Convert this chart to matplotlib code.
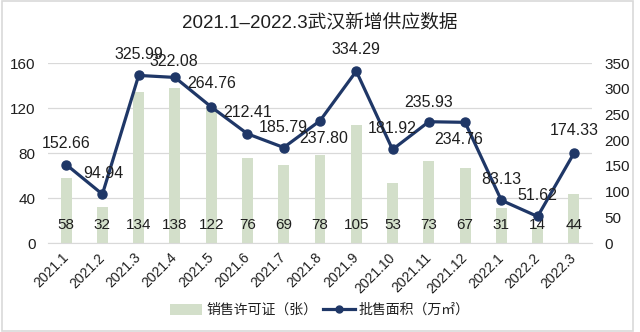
import matplotlib
matplotlib.use("Agg")
import matplotlib.pyplot as plt
from matplotlib.patches import Rectangle
from matplotlib.lines import Line2D
from matplotlib.patches import Patch

plt.rcParams['font.family'] = ['Liberation Sans', 'Noto Sans CJK SC', 'DejaVu Sans']

months = ["2021.1", "2021.2", "2021.3", "2021.4", "2021.5", "2021.6", "2021.7",
          "2021.8", "2021.9", "2021.10", "2021.11", "2021.12", "2022.1",
          "2022.2", "2022.3"]
permits = [58, 32, 134, 138, 122, 76, 69, 78, 105, 53, 73, 67, 31, 14, 44]
area = [152.66, 94.94, 325.99, 322.08, 264.76, 212.41, 185.79, 237.80,
        334.29, 181.92, 235.93, 234.76, 83.13, 51.62, 174.33]
left_ticks = [0, 40, 80, 120, 160]
right_ticks = [0, 50, 100, 150, 200, 250, 300, 350]

title = "2021.1–2022.3武汉新增供应数据"
bar_name = "销售许可证（张）"
line_name = "批售面积（万㎡）"

# label offsets (pixels) for the line's value labels
label_offsets = [(0, 21), (1, 21), (0, 21), (-1, 16), (0, 23), (0, 21), (0, 20),
                 (4, -18), (0, 22), (0, 21), (0, 19), (-6, -17), (0, 21),
                 (0, 21), (0, 23)]

bar_color = "#d3dfca"
line_color = "#1f3767"
grid_color = "#d9d9d9"
text_color = "#1f1f1f"

fig = plt.figure(figsize=(6.4, 3.32), dpi=100)
fig.patches.append(Rectangle((0.003, 0.003), 0.986, 0.994, transform=fig.transFigure,
                             fill=False, edgecolor="#d9d9d9", linewidth=1.2))

ax = fig.add_axes([0.075, 0.268, 0.85, 0.542])
ax2 = ax.twinx()

x = list(range(len(months)))
ax.bar(x, permits, width=0.3, color=bar_color, zorder=2)
ax.set_ylim(0, 160)
ax.set_yticks(left_ticks)
ax.set_xlim(-0.5, len(months) - 0.5)
ax.yaxis.grid(True, color=grid_color, linewidth=0.9, zorder=0)
ax.set_axisbelow(True)
for s in ["top", "right", "left"]:
    ax.spines[s].set_visible(False)
ax.spines["bottom"].set_color(grid_color)
ax.tick_params(axis="y", length=0, pad=9, labelsize=11, labelcolor=text_color)
ax.tick_params(axis="x", length=0, pad=9)
ax.set_xticks(x)
ax.set_xticklabels(months, rotation=45, ha="right", va="center",
                   rotation_mode="anchor", fontsize=10, color=text_color)

for xi, v in zip(x, permits):
    ax.text(xi, 0.1, f"{v}", transform=ax.get_xaxis_transform(), ha="center",
            va="center", fontsize=11, color=text_color, zorder=5)

ax2.plot(x, area, color=line_color, linewidth=2.3, marker="o", markersize=6.5,
         zorder=4)
ax2.set_ylim(0, 350)
ax2.set_yticks(right_ticks)
for s in ["top", "right", "left", "bottom"]:
    ax2.spines[s].set_visible(False)
ax2.tick_params(axis="y", length=0, pad=9, labelsize=11, labelcolor=text_color)

for xi, v, (dx, dy) in zip(x, area, label_offsets):
    ax2.annotate(f"{v:.2f}", (xi, v), xytext=(dx, dy), textcoords="offset pixels",
                 ha="center", va="center", fontsize=11.5, color=text_color,
                 zorder=6)

fig.text(0.5, 0.933, title, ha="center", va="center", fontsize=13.5,
         color=text_color)

handles = [Patch(facecolor=bar_color, edgecolor="none"),
           Line2D([0], [0], color=line_color, linewidth=2.3, marker="o",
                  markersize=5)]
fig.legend(handles, [bar_name, line_name], loc="center",
           bbox_to_anchor=(0.5, 0.066), ncol=2, frameon=False, fontsize=10,
           handlelength=2.3, handleheight=0.8, handletextpad=0.3,
           columnspacing=0.4, labelcolor=text_color)

fig.savefig("out.png", dpi=100)
